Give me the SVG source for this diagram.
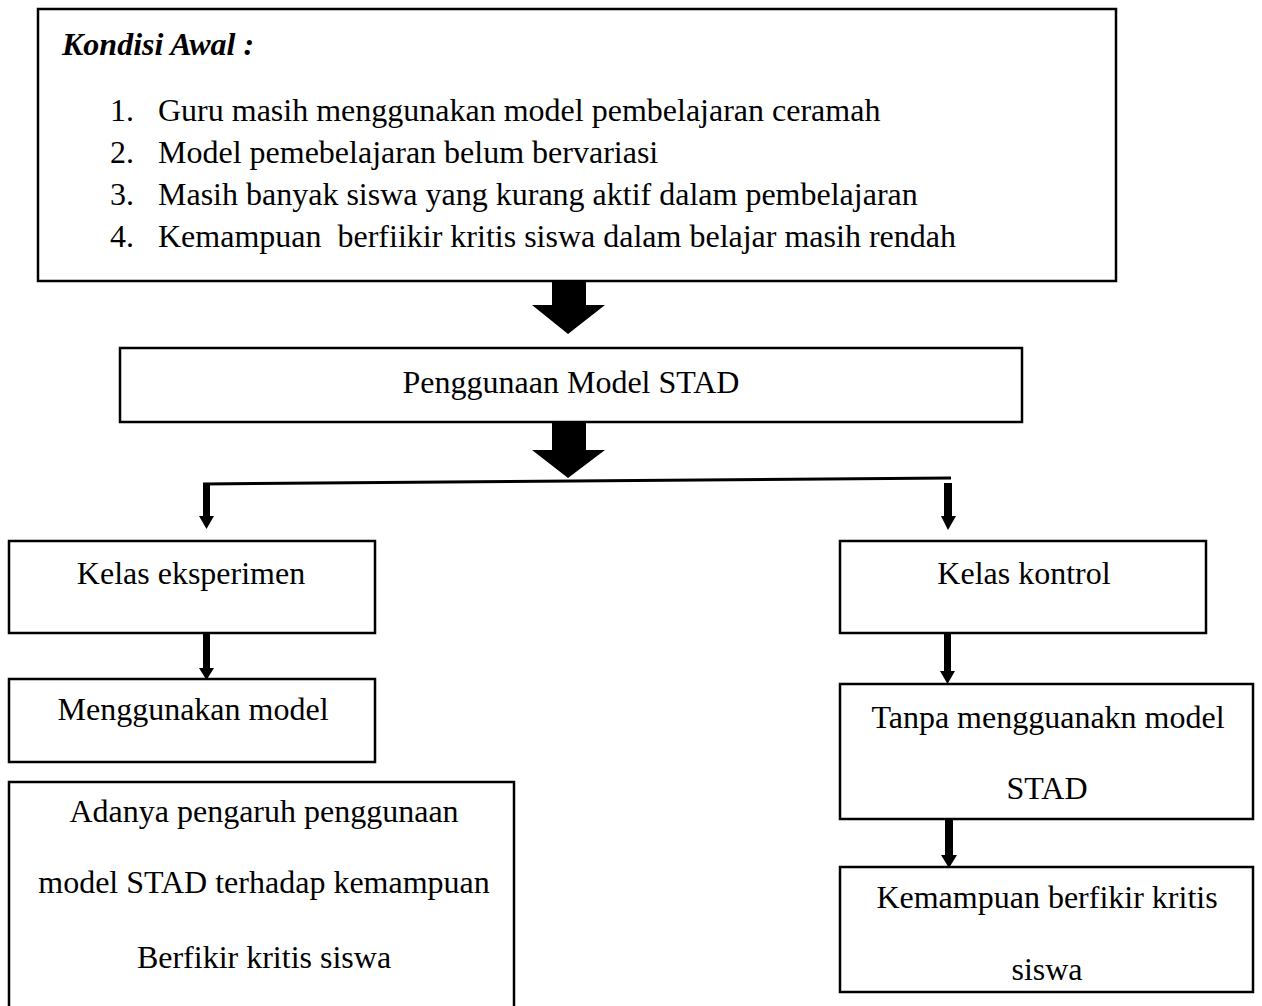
<svg xmlns="http://www.w3.org/2000/svg" width="1262" height="1006" viewBox="0 0 1262 1006">
<style>
.box{fill:#fff;stroke:#000;stroke-width:2.5}
.t{font-family:"Liberation Serif","Times New Roman",serif;font-size:32px;fill:#000}
.c{text-anchor:middle}
.title{font-weight:bold;font-style:italic}
.ln{stroke:#000;stroke-width:3;fill:none}
.ar{fill:#000}
</style>
<rect width="1262" height="1006" fill="#fff"/>
<g id="connectors">
  <polygon class="ar" points="552,280 586,280 586,305 605,305 568,334 532,305 552,305"/>
  <polygon class="ar" points="552,423 586,423 586,450 605,450 568,478 532,450 552,450"/>
  <line class="ln" x1="203" y1="484" x2="951" y2="478"/>
  <polygon class="ar" points="203,485 210,485 210,516 214,516 206.5,529 199,516 203,516"/>
  <polygon class="ar" points="944,483 952,483 952,516 956,516 948,530 941,516 944,516"/>
  <polygon class="ar" points="203,634 210,634 210,668 214,668 206.5,680 199,668 203,668"/>
  <polygon class="ar" points="944,634 951,634 951,671 955,671 947.5,684 940,671 944,671"/>
  <polygon class="ar" points="945,819 953,819 953,855 957,855 949,868 941,855 945,855"/>
</g>
<g id="kondisi-awal">
  <rect class="box" x="38" y="9" width="1078" height="272"/>
  <text class="t title" x="62" y="55">Kondisi Awal :</text>
  <text class="t" x="110" y="121">1.</text>
  <text class="t" x="158" y="121">Guru masih menggunakan model pembelajaran ceramah</text>
  <text class="t" x="110" y="163">2.</text>
  <text class="t" x="158" y="163">Model pemebelajaran belum bervariasi</text>
  <text class="t" x="110" y="205">3.</text>
  <text class="t" x="158" y="205">Masih banyak siswa yang kurang aktif dalam pembelajaran</text>
  <text class="t" x="110" y="247">4.</text>
  <text class="t" x="158" y="247" xml:space="preserve">Kemampuan  berfiikir kritis siswa dalam belajar masih rendah</text>
</g>
<g id="penggunaan">
  <rect class="box" x="120" y="348" width="902" height="74"/>
  <text class="t c" x="571" y="393">Penggunaan Model STAD</text>
</g>
<g id="kelas-eksperimen">
  <rect class="box" x="9" y="541" width="366" height="92"/>
  <text class="t c" x="191" y="584">Kelas eksperimen</text>
</g>
<g id="kelas-kontrol">
  <rect class="box" x="840" y="541" width="366" height="92"/>
  <text class="t c" x="1024" y="584">Kelas kontrol</text>
</g>
<g id="menggunakan-model">
  <rect class="box" x="9" y="679" width="366" height="83"/>
  <text class="t c" x="193" y="720">Menggunakan model</text>
</g>
<g id="tanpa-model">
  <rect class="box" x="840" y="684" width="413" height="135"/>
  <text class="t c" x="1048" y="728">Tanpa mengguanakn model</text>
  <text class="t c" x="1047" y="799">STAD</text>
</g>
<g id="adanya-pengaruh">
  <rect class="box" x="9" y="782" width="505" height="240"/>
  <text class="t c" x="264" y="822">Adanya pengaruh penggunaan</text>
  <text class="t c" x="264" y="893">model STAD terhadap kemampuan</text>
  <text class="t c" x="264" y="968">Berfikir kritis siswa</text>
</g>
<g id="kemampuan">
  <rect class="box" x="840" y="867" width="413" height="125"/>
  <text class="t c" x="1047" y="908">Kemampuan berfikir kritis</text>
  <text class="t c" x="1047" y="980">siswa</text>
</g>
</svg>
